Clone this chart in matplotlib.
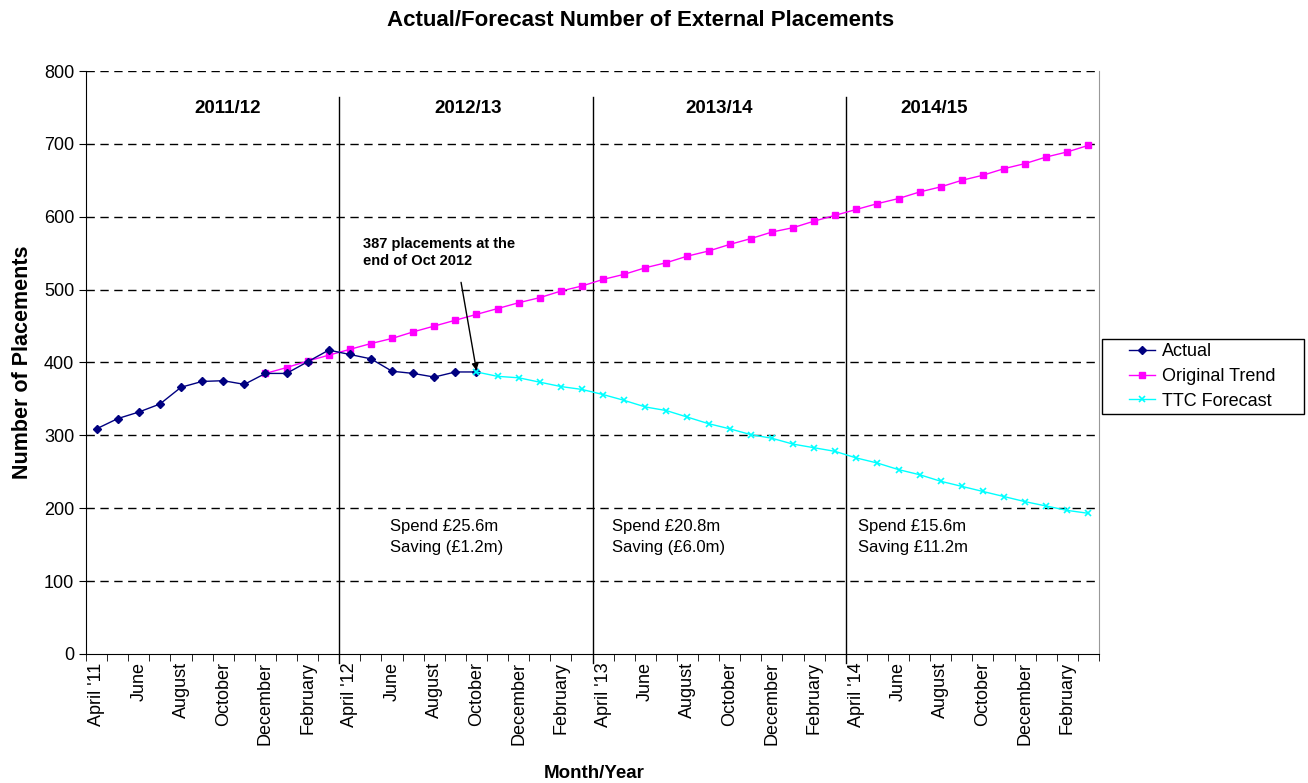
import numpy as np
import matplotlib
matplotlib.use("Agg")
import matplotlib.pyplot as plt
from matplotlib.patches import Rectangle

plt.rcParams['font.family'] = ['Liberation Sans', 'DejaVu Sans']

# month labels, one every two months (April 2011 - March 2015)
tick_labels = ["April '11", "June", "August", "October", "December", "February",
               "April '12", "June", "August", "October", "December", "February",
               "April '13", "June", "August", "October", "December", "February",
               "April '14", "June", "August", "October", "December", "February"]

# Apr 2011 .. Oct 2012
actual = [309, 323, 332, 343, 366, 374, 375, 370, 385, 385, 401, 417,
          411, 405, 388, 385, 380, 387, 387]

# Dec 2011 .. Mar 2015
original_trend = [385, 393, 402, 410, 418, 426, 433, 442, 450, 458, 466, 474,
                  482, 489, 498, 505, 514, 521, 530, 537, 546, 553, 562, 570,
                  579, 585, 594, 602, 610, 618, 625, 634, 641, 650, 657, 666,
                  673, 682, 689, 698]

# Oct 2012 .. Mar 2015
ttc_forecast = [387, 381, 379, 373, 367, 363, 356, 348, 339, 334, 325, 316,
                309, 301, 296, 288, 283, 278, 269, 262, 253, 246, 237, 230,
                223, 216, 209, 203, 197, 193]

years = ["2011/12", "2012/13", "2013/14", "2014/15"]
year_x = [6.2, 17.6, 29.5, 39.7]
spend_notes = ["Spend £25.6m\nSaving (£1.2m)",
               "Spend £20.8m\nSaving (£6.0m)",
               "Spend £15.6m\nSaving £11.2m"]
spend_x = [13.9, 24.4, 36.1]

n_months = 48
x_actual = np.arange(len(actual))
x_trend = np.arange(n_months - len(original_trend), n_months)
x_ttc = np.arange(n_months - len(ttc_forecast), n_months)

W, H = 1308, 783
fig = plt.figure(figsize=(W / 100, H / 100), dpi=100)
ax = fig.add_axes([0.0658, 0.1648, 0.7744, 0.7445])

for y in range(100, 900, 100):
    ax.axhline(y, color='black', lw=1.0, ls=(0, (6, 4)), zorder=1)

for b in [11.5, 23.5, 35.5]:
    ax.plot([b, b], [-12, 765], color='black', lw=1.0, zorder=1, clip_on=False)

ax.plot(x_actual, actual, color='#000080', marker='D', ms=4.5, lw=1.0,
        label='Actual', zorder=3)
ax.plot(x_trend, original_trend, color='#FF00FF', marker='s', ms=5, lw=1.0,
        label='Original Trend', zorder=2)
ax.plot(x_ttc, ttc_forecast, color='#00FFFF', marker='x', ms=5, mew=1.2,
        lw=1.0, label='TTC Forecast', zorder=4)

for yr, xp in zip(years, year_x):
    ax.text(xp, 748, yr, ha='center', va='center',
            fontsize=13.5, fontweight='bold')

for note, xp in zip(spend_notes, spend_x):
    ax.text(xp, 160, note, ha='left', va='center',
            fontsize=12, linespacing=1.5)

# callout for the last actual month
ax.text(12.6, 551, "387 placements at the\nend of Oct 2012", fontsize=10.5,
        fontweight='bold', ha='left', va='center', linespacing=1.3)
ax.annotate("", xy=(18, ttc_forecast[0] + 2), xytext=(17.27, 510),
            arrowprops=dict(arrowstyle='-|>', color='black', lw=1.0,
                            mutation_scale=10, shrinkA=0, shrinkB=0))

ax.set_xlim(-0.5, n_months - 0.5)
ax.set_ylim(0, 800)
ax.set_yticks(range(0, 900, 100))
ax.tick_params(axis='y', labelsize=13, length=5, direction='out')

ax.set_xticks(np.arange(0, n_months, 2))
ax.set_xticklabels(tick_labels, rotation=90, fontsize=13)
ax.set_xticks(np.arange(-0.5, n_months, 1), minor=True)
ax.tick_params(axis='x', which='major', length=0, pad=6)
ax.tick_params(axis='x', which='minor', length=5, direction='out')

ax.spines['top'].set_visible(False)
ax.spines['right'].set_color('#999999')

ax.set_ylabel('Number of Placements', fontsize=15.5, fontweight='bold', labelpad=8)
fig.text(594 / W, 1 - 773 / H, 'Month/Year', ha='center', va='center',
         fontsize=13.5, fontweight='bold')
fig.text(641 / W, 1 - 20 / H, 'Actual/Forecast Number of External Placements',
         ha='center', va='center', fontsize=16, fontweight='bold')

# legend: entries without frame, box drawn separately for wider side padding
leg = fig.legend(loc='center left', bbox_to_anchor=(1129 / W, 1 - 376.5 / H),
                 fontsize=13, frameon=False, borderpad=0, borderaxespad=0,
                 handlelength=1.45, handletextpad=0.35, labelspacing=0.42)
fig.patches.append(Rectangle((1102 / W, 1 - 414 / H), 202 / W, 75 / H,
                             transform=fig.transFigure, fill=False,
                             edgecolor='black', lw=1.0))

fig.savefig('out.png', dpi=100)
